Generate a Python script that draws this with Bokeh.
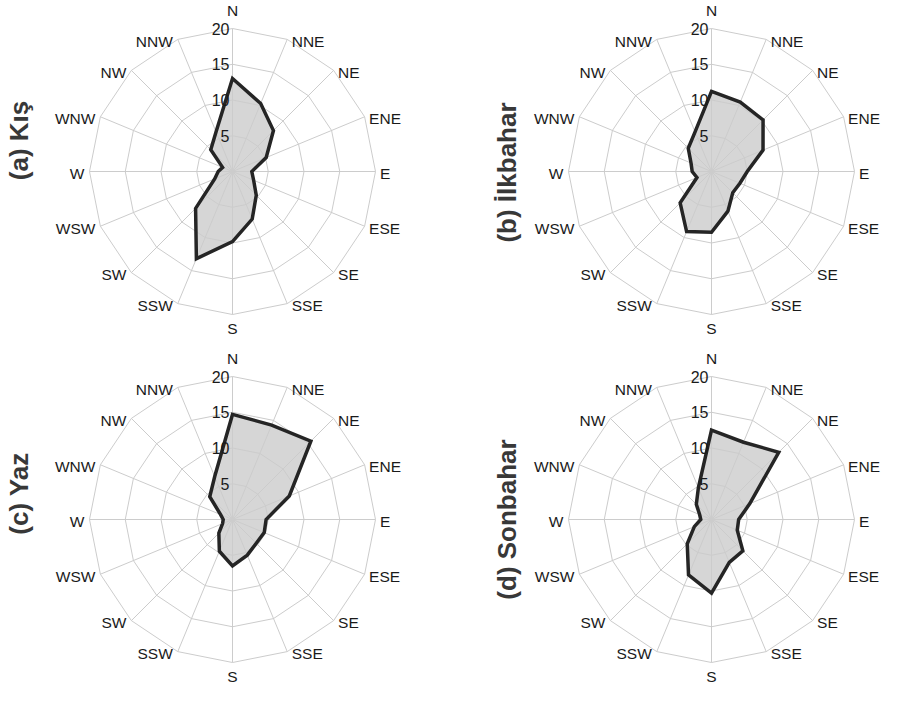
import numpy as np
from bokeh.plotting import figure
from bokeh.models import Range1d, ColumnDataSource
from bokeh.embed import file_html
from bokeh.resources import INLINE
from bokeh.core.properties import value

# ---------------- data ----------------
directions = ["N", "NNE", "NE", "ENE", "E", "ESE", "SE", "SSE",
              "S", "SSW", "SW", "WSW", "W", "WNW", "NW", "NNW"]
kis = [13.0, 10.3, 8.1, 5.1, 2.7, 3.2, 4.7, 7.2, 9.8, 13.2, 7.3, 2.7, 2.0, 1.5, 4.3, 6.0]
ilkbahar = [11.2, 10.5, 10.2, 7.8, 5.0, 4.3, 4.2, 6.0, 8.5, 9.1, 6.2, 2.2, 2.7, 3.1, 4.6, 6.0]
yaz = [14.7, 14.3, 15.5, 8.6, 4.7, 4.8, 4.7, 5.4, 6.5, 4.8, 2.7, 1.5, 1.3, 1.8, 4.5, 6.5]
sonbahar = [12.5, 11.7, 13.3, 5.8, 3.8, 3.9, 6.2, 6.5, 10.3, 8.4, 4.8, 2.6, 1.5, 1.8, 3.0, 4.8]
titles = ["(a) Kış", "(b) İlkbahar", "(c) Yaz", "(d) Sonbahar"]
ring_values = [5, 10, 15, 20]
ring_labels = ["5", "10", "15", "20"]
r_max = 20

# ---------------- layout ----------------
W, H = 882, 686
PX = 143.0 / r_max  # pixels per unit
FONT = "Liberation Sans"
LABEL_SIZE = "15.5px"

# panel centres (canvas pixels) and title centres (canvas pixels)
centers_px = [(232.0, 171.0), (711.0, 171.0), (232.0, 519.0), (711.0, 519.0)]
title_px = [(18, 140), (506, 172), (18, 493), (506, 519)]
series = [kis, ilkbahar, yaz, sonbahar]

p = figure(width=W, height=H, x_range=Range1d(0, W / PX), y_range=Range1d(0, H / PX),
           output_backend="svg", toolbar_location=None, min_border=0,
           x_axis_location=None, y_axis_location=None)
p.grid.visible = False
p.outline_line_color = None
p.background_fill_color = "white"
p.border_fill_color = "white"

n = len(directions)
theta = np.arange(n) * 2 * np.pi / n
s, c = np.sin(theta), np.cos(theta)

for k, (cpx, cpy) in enumerate(centers_px):
    cx, cy = cpx / PX, (H - cpy) / PX
    vals = np.array(series[k])

    # data polygon fill
    p.patch(cx + vals * s, cy + vals * c, fill_color="#d6d6d6", line_color=None)

    # grid rings (polygonal) and spokes
    xs, ys = [], []
    for rv in ring_values:
        xs.append(list(cx + rv * np.append(s, s[0])))
        ys.append(list(cy + rv * np.append(c, c[0])))
    for i in range(n):
        xs.append([cx, cx + r_max * s[i]])
        ys.append([cy, cy + r_max * c[i]])
    p.multi_line(xs, ys, line_color="#cccccc", line_width=1)

    # data outline
    p.patch(cx + vals * s, cy + vals * c, fill_color=None, line_color="#252525",
            line_width=3.5, line_join="miter")

    # direction labels
    lx, ly, al = [], [], []
    for i in range(n):
        ex, ey = cx + r_max * s[i], cy + r_max * c[i]
        if abs(s[i]) < 0.1:
            lx.append(ex)
            ly.append(cy + (161 / PX if c[i] > 0 else -157 / PX))
            al.append("center")
        else:
            lx.append(ex + (4.5 / PX if s[i] > 0 else -5 / PX))
            ly.append(ey - 2 / PX)
            al.append("left" if s[i] > 0 else "right")
    src = ColumnDataSource(dict(x=lx, y=ly, t=directions, a=al))
    p.text(x="x", y="y", text="t", text_align="a", text_baseline="middle", source=src,
           text_font=value(FONT), text_font_size=LABEL_SIZE, text_color="#1a1a1a")

    # radial tick labels
    p.text(x=[cx - 3 / PX] * len(ring_values), y=[cy + rv for rv in ring_values],
           text=ring_labels, text_align="right", text_baseline="middle",
           text_font=value(FONT), text_font_size="16px", text_color="#1a1a1a")

    # panel title (vertical)
    tx, ty = title_px[k]
    p.text(x=[tx / PX], y=[(H - ty) / PX], text=[titles[k]], angle=np.pi / 2,
           text_align="center", text_baseline="middle", text_font=value(FONT),
           text_font_size="26px", text_font_style="bold", text_color="#383838")

open("out.html", "w").write(file_html(p, INLINE))
